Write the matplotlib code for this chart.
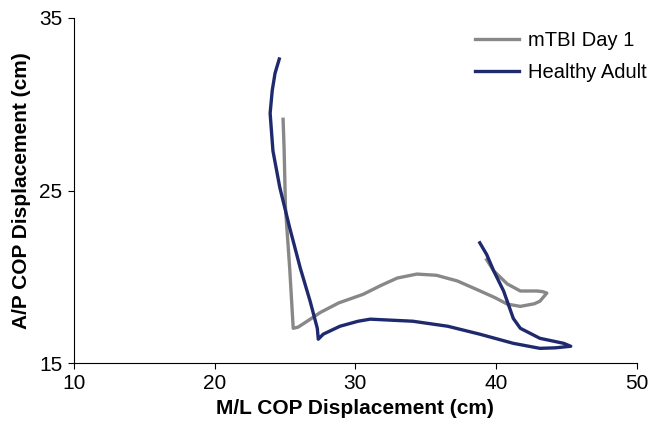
import matplotlib
matplotlib.use("Agg")
import matplotlib.pyplot as plt

plt.rcParams['font.family'] = ['Liberation Sans', 'DejaVu Sans']

mtbi_x = [24.87, 24.94, 25.04, 25.34, 25.59, 25.94, 26.58, 27.52, 28.82, 30.56, 31.79, 32.98, 34.37, 35.76,
          37.25, 38.84, 39.93, 40.79, 41.72, 42.71, 43.11, 43.60, 43.31, 42.91, 41.72, 40.79, 39.83, 39.33]
mtbi_y = [29.13, 27.5, 24.0, 20.5, 17.03, 17.1, 17.44, 17.95, 18.5, 19.0, 19.5, 19.94, 20.17, 20.1,
          19.77, 19.2, 18.8, 18.43, 18.3, 18.45, 18.6, 19.07, 19.15, 19.19, 19.19, 19.6, 20.35, 21.0]

healthy_x = [24.60, 24.30, 24.10, 23.95, 24.15, 24.64, 25.34, 26.09, 26.79, 27.30, 27.37, 27.72, 28.91,
             30.20, 31.06, 34.08, 36.56, 38.84, 41.22, 43.11, 44.20, 45.30, 44.80, 43.11, 41.72, 41.22,
             40.53, 39.83, 39.33, 38.84]
healthy_y = [32.62, 31.8, 30.8, 29.48, 27.3, 25.17, 22.85, 20.52, 18.6, 17.03, 16.4, 16.69, 17.15,
             17.44, 17.56, 17.44, 17.15, 16.69, 16.16, 15.87, 15.9, 15.99, 16.16, 16.45, 17.03, 17.6,
             19.19, 20.35, 21.3, 21.98]

fig = plt.figure(figsize=(6.58, 4.26), dpi=100)
ax = fig.add_axes([0.112, 0.147, 0.856, 0.811])

ax.plot(mtbi_x, mtbi_y, color='#888888', lw=2.4, label='mTBI Day 1', solid_joinstyle='round')
ax.plot(healthy_x, healthy_y, color='#1f2a6e', lw=2.4, label='Healthy Adult', solid_joinstyle='round')

ax.set_xlim(10, 50)
ax.set_ylim(15, 35)
ax.set_xticks([10, 20, 30, 40, 50])
ax.set_yticks([15, 25, 35])
ax.spines['top'].set_visible(False)
ax.spines['right'].set_visible(False)
ax.tick_params(direction='out', length=4, labelsize=15, pad=4)
ax.set_xlabel('M/L COP Displacement (cm)', fontsize=15, fontweight='bold', labelpad=4)
ax.set_ylabel('A/P COP Displacement (cm)', fontsize=15, fontweight='bold', labelpad=6)
ax.legend(loc='upper left', frameon=False, fontsize=14.5, handlelength=2.2, handletextpad=0.45,
          labelspacing=0.65, bbox_to_anchor=(0.68, 1.015))

fig.savefig('out.png', dpi=100)
